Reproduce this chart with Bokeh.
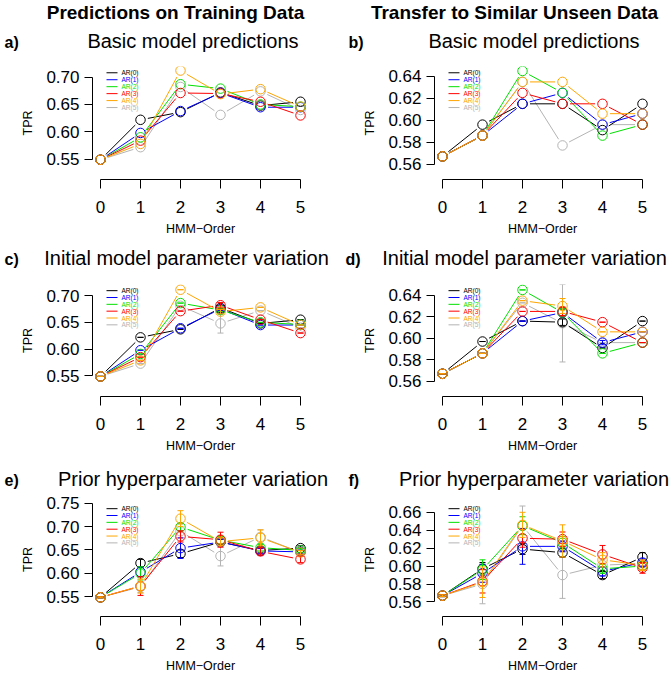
import math
from bokeh.plotting import figure
from bokeh.layouts import column, row
from bokeh.models import FixedTicker, PrintfTickFormatter, Range1d
from bokeh.core.properties import value
from bokeh.embed import file_html
from bokeh.resources import INLINE

FONT = "Liberation Sans"

hmm_order = [0, 1, 2, 3, 4, 5]
series_names = ["AR(0)", "AR(1)", "AR(2)", "AR(3)", "AR(4)", "AR(5)"]
series_colors = ["#000000", "#0000FF", "#00E000", "#FF0000", "#FFA500", "#B4B4B4"]

# ---- a) Basic model predictions, training data ----
a_ar0 = [0.549, 0.622, 0.636, 0.672, 0.648, 0.655]
a_ar1 = [0.549, 0.598, 0.638, 0.671, 0.645, 0.645]
a_ar2 = [0.549, 0.590, 0.687, 0.679, 0.650, 0.646]
a_ar3 = [0.549, 0.584, 0.671, 0.670, 0.655, 0.630]
a_ar4 = [0.549, 0.578, 0.712, 0.669, 0.678, 0.646]
a_ar5 = [0.549, 0.572, 0.682, 0.631, 0.674, 0.640]

# ---- b) Basic model predictions, unseen data ----
b_ar0 = [0.567, 0.596, 0.615, 0.615, 0.591, 0.615]
b_ar1 = [0.567, 0.586, 0.615, 0.625, 0.596, 0.606]
b_ar2 = [0.567, 0.586, 0.645, 0.625, 0.586, 0.596]
b_ar3 = [0.567, 0.586, 0.625, 0.615, 0.615, 0.596]
b_ar4 = [0.567, 0.586, 0.635, 0.635, 0.606, 0.606]
b_ar5 = [0.567, 0.586, 0.635, 0.577, 0.596, 0.596]

# ---- c) Initial model parameter variation, training data ----
c_ar0 = [0.549, 0.622, 0.637, 0.677, 0.648, 0.655]
c_ar1 = [0.549, 0.598, 0.639, 0.675, 0.645, 0.645]
c_ar2 = [0.549, 0.591, 0.686, 0.673, 0.650, 0.646]
c_ar3 = [0.549, 0.585, 0.671, 0.682, 0.655, 0.630]
c_ar4 = [0.549, 0.579, 0.711, 0.670, 0.678, 0.645]
c_ar5 = [0.549, 0.573, 0.681, 0.648, 0.672, 0.640]
c_sd0 = [0.000, 0.000, 0.000, 0.004, 0.000, 0.000]
c_sd1 = [0.000, 0.000, 0.000, 0.003, 0.000, 0.000]
c_sd2 = [0.000, 0.000, 0.000, 0.003, 0.000, 0.000]
c_sd3 = [0.000, 0.000, 0.000, 0.005, 0.000, 0.000]
c_sd4 = [0.000, 0.000, 0.000, 0.004, 0.000, 0.000]
c_sd5 = [0.000, 0.000, 0.000, 0.018, 0.000, 0.000]

# ---- d) Initial model parameter variation, unseen data ----
d_ar0 = [0.567, 0.597, 0.616, 0.615, 0.591, 0.616]
d_ar1 = [0.567, 0.586, 0.616, 0.624, 0.596, 0.606]
d_ar2 = [0.567, 0.586, 0.645, 0.624, 0.586, 0.596]
d_ar3 = [0.567, 0.586, 0.625, 0.625, 0.615, 0.596]
d_ar4 = [0.567, 0.586, 0.635, 0.630, 0.606, 0.606]
d_ar5 = [0.567, 0.586, 0.633, 0.614, 0.596, 0.596]
d_sd0 = [0.000, 0.000, 0.000, 0.003, 0.000, 0.000]
d_sd1 = [0.000, 0.000, 0.000, 0.003, 0.002, 0.000]
d_sd2 = [0.000, 0.000, 0.000, 0.003, 0.000, 0.000]
d_sd3 = [0.000, 0.000, 0.000, 0.004, 0.000, 0.000]
d_sd4 = [0.000, 0.000, 0.000, 0.007, 0.000, 0.000]
d_sd5 = [0.000, 0.000, 0.000, 0.036, 0.000, 0.000]

# ---- e) Prior hyperparameter variation, training data ----
e_ar0 = [0.549, 0.622, 0.642, 0.667, 0.649, 0.654]
e_ar1 = [0.549, 0.603, 0.654, 0.667, 0.648, 0.646]
e_ar2 = [0.549, 0.600, 0.699, 0.671, 0.655, 0.649]
e_ar3 = [0.549, 0.573, 0.679, 0.672, 0.647, 0.630]
e_ar4 = [0.549, 0.573, 0.717, 0.668, 0.676, 0.645]
e_ar5 = [0.549, 0.571, 0.690, 0.637, 0.678, 0.645]
e_sd0 = [0.001, 0.008, 0.008, 0.006, 0.005, 0.005]
e_sd1 = [0.001, 0.010, 0.022, 0.006, 0.005, 0.004]
e_sd2 = [0.001, 0.014, 0.008, 0.008, 0.007, 0.004]
e_sd3 = [0.001, 0.020, 0.012, 0.016, 0.008, 0.007]
e_sd4 = [0.001, 0.015, 0.017, 0.008, 0.017, 0.004]
e_sd5 = [0.001, 0.012, 0.015, 0.021, 0.015, 0.004]

# ---- f) Prior hyperparameter variation, unseen data ----
f_ar0 = [0.567, 0.597, 0.619, 0.615, 0.590, 0.610]
f_ar1 = [0.567, 0.592, 0.622, 0.622, 0.594, 0.604]
f_ar2 = [0.567, 0.596, 0.645, 0.626, 0.597, 0.600]
f_ar3 = [0.567, 0.583, 0.631, 0.630, 0.613, 0.598]
f_ar4 = [0.567, 0.582, 0.646, 0.628, 0.607, 0.601]
f_ar5 = [0.567, 0.580, 0.645, 0.590, 0.601, 0.603]
f_sd0 = [0.001, 0.007, 0.006, 0.005, 0.004, 0.005]
f_sd1 = [0.001, 0.010, 0.020, 0.006, 0.005, 0.004]
f_sd2 = [0.001, 0.011, 0.010, 0.007, 0.005, 0.004]
f_sd3 = [0.001, 0.013, 0.010, 0.008, 0.010, 0.006]
f_sd4 = [0.001, 0.017, 0.014, 0.018, 0.008, 0.006]
f_sd5 = [0.001, 0.022, 0.022, 0.026, 0.006, 0.004]

ticks_train = [0.55, 0.60, 0.65, 0.70]
ticks_unseen = [0.56, 0.58, 0.60, 0.62, 0.64]
ticks_prior_train = [0.55, 0.60, 0.65, 0.70, 0.75]
ticks_prior_unseen = [0.56, 0.58, 0.60, 0.62, 0.64, 0.66]

col_headers = ["Predictions on Training Data", "Transfer to Similar Unseen Data"]
panel_letters = ["a)", "b)", "c)", "d)", "e)", "f)"]
panel_titles = ["Basic model predictions", "Basic model predictions",
                "Initial model parameter variation", "Initial model parameter variation",
                "Prior hyperparameter variation", "Prior hyperparameter variation"]
x_label = "HMM\u2212Order"
y_label = "TPR"

GAP = 7.5      # px gap of R type="b" lines around points
CAP = 3.0      # px half width of error bar caps
X0, X1 = -0.2, 5.2
TOTAL_W = 671


def text_band(height, items):
    """A frame-only strip that carries the headings (pixel coordinates, y down)."""
    p = figure(width=TOTAL_W, height=height, x_range=Range1d(0, TOTAL_W),
               y_range=Range1d(height, 0), x_axis_type=None, y_axis_type=None,
               output_backend="svg", toolbar_location=None,
               min_border_left=0, min_border_right=0, min_border_top=0, min_border_bottom=0)
    p.outline_line_color = None
    p.background_fill_color = "white"
    for (x, y, txt, size, bold, align) in items:
        p.text(x=[x], y=[y], text=[txt], text_font=value(FONT), text_font_size=size,
               text_font_style="bold" if bold else "normal", text_align=align,
               text_baseline="middle", text_color="black")
    return p


def make_panel(ys, sds, yticks, yr, geo, ylab_standoff):
    W, H, L, R, T, B = geo
    y0, y1 = yr
    fw = W - L - R
    fh = H - T - B
    pxx = fw / (X1 - X0)
    pxy = fh / (y1 - y0)
    p = figure(width=W, height=H, x_range=Range1d(X0, X1), y_range=Range1d(y0, y1),
               output_backend="svg", toolbar_location=None,
               min_border_left=L, min_border_right=R, min_border_top=T, min_border_bottom=B)
    p.outline_line_color = None
    p.xgrid.visible = False
    p.ygrid.visible = False
    p.background_fill_color = "white"

    for ax in (p.xaxis[0], p.yaxis[0]):
        ax.axis_line_color = "black"
        ax.axis_line_width = 1
        ax.major_tick_line_color = "black"
        ax.major_tick_in = 0
        ax.minor_tick_line_color = None
        ax.major_label_text_font = FONT
        ax.major_label_text_font_size = "17px"
        ax.major_label_text_color = "black"
        ax.axis_label_text_font = FONT
        ax.axis_label_text_font_size = "12.5px"
        ax.axis_label_text_font_style = "normal"
        ax.axis_label_text_color = "black"
    p.xaxis.ticker = FixedTicker(ticks=hmm_order)
    p.xaxis.bounds = (hmm_order[0], hmm_order[-1])
    p.xaxis.major_tick_out = 9
    p.xaxis.major_label_standoff = 12
    p.xaxis.axis_label = x_label
    p.xaxis.axis_label_standoff = 6
    p.yaxis.ticker = FixedTicker(ticks=yticks)
    p.yaxis.bounds = (yticks[0], yticks[-1])
    p.yaxis.formatter = PrintfTickFormatter(format="%.2f")
    p.yaxis.major_tick_out = 8
    p.yaxis.major_label_standoff = 5
    p.yaxis.major_label_orientation = "horizontal"
    p.yaxis.axis_label = y_label
    p.yaxis.axis_label_standoff = ylab_standoff

    order = [5, 0, 1, 2, 3, 4]
    for k in order:
        yv = ys[k]
        col = series_colors[k]
        # lines broken around the points (R type="b")
        sx0, sy0, sx1, sy1 = [], [], [], []
        for i in range(len(hmm_order) - 1):
            xa, xb = hmm_order[i], hmm_order[i + 1]
            ya, yb = yv[i], yv[i + 1]
            dxp = (xb - xa) * pxx
            dyp = (yb - ya) * pxy
            Lp = math.hypot(dxp, dyp)
            if Lp <= 2 * GAP:
                continue
            f = GAP / Lp
            sx0.append(xa + (xb - xa) * f)
            sy0.append(ya + (yb - ya) * f)
            sx1.append(xb - (xb - xa) * f)
            sy1.append(yb - (yb - ya) * f)
        p.segment(x0=sx0, y0=sy0, x1=sx1, y1=sy1, line_color=col, line_width=1)
        if sds is not None:
            sd = sds[k]
            lo = [a - s for a, s in zip(yv, sd)]
            hi = [a + s for a, s in zip(yv, sd)]
            p.segment(x0=hmm_order, y0=lo, x1=hmm_order, y1=hi, line_color=col, line_width=1)
            cw = CAP / pxx
            xl = [x - cw for x in hmm_order]
            xr = [x + cw for x in hmm_order]
            p.segment(x0=xl, y0=lo, x1=xr, y1=lo, line_color=col, line_width=1)
            p.segment(x0=xl, y0=hi, x1=xr, y1=hi, line_color=col, line_width=1)
        p.scatter(x=hmm_order, y=yv, marker="circle", size=9.5, fill_color=None,
                  line_color=col, line_width=1)

    # legend (top-left, no box), labels coloured like their series
    for k in range(6):
        yy = y1 - (6.5 + 7.2 * k) / pxy
        p.segment(x0=[X0 + 14 / pxx], y0=[yy], x1=[X0 + 25 / pxx], y1=[yy],
                  line_color=series_colors[k], line_width=1)
        p.text(x=[X0 + 29 / pxx], y=[yy], text=[series_names[k]],
               text_color=series_colors[k], text_font=value(FONT),
               text_font_size="6.5px", text_baseline="middle", text_align="left")
    return p


# geometry: width, height, border left, right, top, bottom
LW, RW = 341, 330
gL1 = (LW, 182, 92, 33, 10, 55)
gR1 = (RW, 182, 93, 21, 10, 55)
gL2 = (LW, 183, 92, 33, 12, 53)
gR2 = (RW, 183, 93, 21, 12, 53)
gL3 = (LW, 185, 92, 33, 12, 53)
gR3 = (RW, 185, 93, 21, 12, 53)

ya = (0.51294, 0.7194)
yb = (0.54589, 0.64908)
yc = (0.51152, 0.72074)
yd = (0.54588, 0.65003)
ye = (0.50801, 0.75142)
yf = (0.54379, 0.67091)

band1 = text_band(56, [
    (175, 11.5, col_headers[0], "19px", True, "center"),
    (514, 11.5, col_headers[1], "19px", True, "center"),
    (4, 41.5, panel_letters[0], "16px", True, "left"),
    (348, 41.5, panel_letters[1], "16px", True, "left"),
    (192.5, 40, panel_titles[0], "20px", False, "center"),
    (533.5, 40, panel_titles[1], "20px", False, "center"),
])
band2 = text_band(34, [
    (4, 20.5, panel_letters[2], "16px", True, "left"),
    (345, 20.5, panel_letters[3], "16px", True, "left"),
    (186, 19, panel_titles[2], "20px", False, "center"),
    (524, 19, panel_titles[3], "20px", False, "center"),
])
band3 = text_band(35, [
    (4, 24.5, panel_letters[4], "16px", True, "left"),
    (348, 24.5, panel_letters[5], "16px", True, "left"),
    (192.5, 23.3, panel_titles[4], "20px", False, "center"),
    (533.5, 23.3, panel_titles[5], "20px", False, "center"),
])

pa = make_panel([a_ar0, a_ar1, a_ar2, a_ar3, a_ar4, a_ar5], None, ticks_train, ya, gL1, 8)
pb = make_panel([b_ar0, b_ar1, b_ar2, b_ar3, b_ar4, b_ar5], None, ticks_unseen, yb, gR1, 8)
pc = make_panel([c_ar0, c_ar1, c_ar2, c_ar3, c_ar4, c_ar5],
                [c_sd0, c_sd1, c_sd2, c_sd3, c_sd4, c_sd5], ticks_train, yc, gL2, 8)
pd_ = make_panel([d_ar0, d_ar1, d_ar2, d_ar3, d_ar4, d_ar5],
                 [d_sd0, d_sd1, d_sd2, d_sd3, d_sd4, d_sd5], ticks_unseen, yd, gR2, 8)
pe = make_panel([e_ar0, e_ar1, e_ar2, e_ar3, e_ar4, e_ar5],
                [e_sd0, e_sd1, e_sd2, e_sd3, e_sd4, e_sd5], ticks_prior_train, ye, gL3, 8)
pf = make_panel([f_ar0, f_ar1, f_ar2, f_ar3, f_ar4, f_ar5],
                [f_sd0, f_sd1, f_sd2, f_sd3, f_sd4, f_sd5], ticks_prior_unseen, yf, gR3, 8)

layout = column(band1, row(pa, pb), band2, row(pc, pd_), band3, row(pe, pf))

open("out.html", "w").write(file_html(layout, INLINE))
